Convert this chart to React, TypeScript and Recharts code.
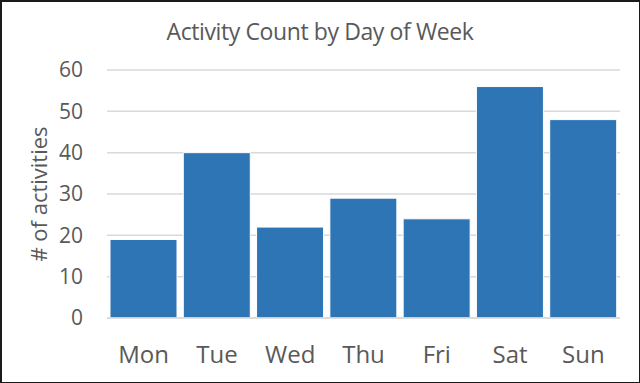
import { BarChart, Bar, XAxis, YAxis, CartesianGrid } from 'recharts';

const days = ['Mon', 'Tue', 'Wed', 'Thu', 'Fri', 'Sat', 'Sun'];
const activityCounts = [19, 40, 22, 29, 24, 56, 48];
const yTicks = [0, 10, 20, 30, 40, 50, 60];

const data = days.map((day, i) => ({ day, count: activityCounts[i] }));

const FONT = '"Open Sans", "Noto Sans", sans-serif';
const TEXT = '#595959';

export default function App() {
  return (
    <div
      style={{
        position: 'absolute',
        left: 0,
        top: 0,
        width: 640,
        height: 383,
        boxSizing: 'border-box',
        borderTop: '2px solid #1a1a1a',
        borderLeft: '2px solid #1a1a1a',
        borderRight: '1px solid #1a1a1a',
        borderBottom: '1px solid #1a1a1a',
        background: '#fff',
        fontFamily: FONT,
      }}
    >
      <div
        style={{
          position: 'absolute',
          left: -2,
          top: 13,
          width: 640,
          textAlign: 'center',
          fontSize: 23,
          letterSpacing: -0.4,
          color: TEXT,
          whiteSpace: 'nowrap',
        }}
      >
        Activity Count by Day of Week
      </div>
      <div style={{ position: 'absolute', left: -2, top: -2 }}>
        <BarChart
          width={640}
          height={383}
          data={data}
          margin={{ top: 70, right: 20, bottom: 0, left: 0 }}
          barCategoryGap={3}
        >
          <CartesianGrid vertical={false} stroke="#d9d9d9" strokeWidth={1.5} />
          <XAxis
            dataKey="day"
            height={65}
            axisLine={{ stroke: '#d9d9d9', strokeWidth: 1.5 }}
            tickLine={false}
            tickSize={0}
            tickMargin={28}
            tick={{ fill: TEXT, fontSize: 24, fontFamily: FONT }}
          />
          <YAxis
            width={107}
            domain={[0, 60]}
            ticks={yTicks}
            axisLine={false}
            tickLine={false}
            tickSize={0}
            tickMargin={24}
            tick={{ fill: TEXT, fontSize: 21, fontFamily: FONT }}
            label={{
              value: '# of activities',
              angle: -90,
              position: 'insideLeft',
              offset: 39,
              fill: TEXT,
              fontSize: 22,
              fontFamily: FONT,
              style: { textAnchor: 'middle' },
            }}
          />
          <Bar
            dataKey="count"
            fill="#2e75b6"
            stroke="#ffffff"
            strokeWidth={1}
            isAnimationActive={false}
          />
        </BarChart>
      </div>
    </div>
  );
}
